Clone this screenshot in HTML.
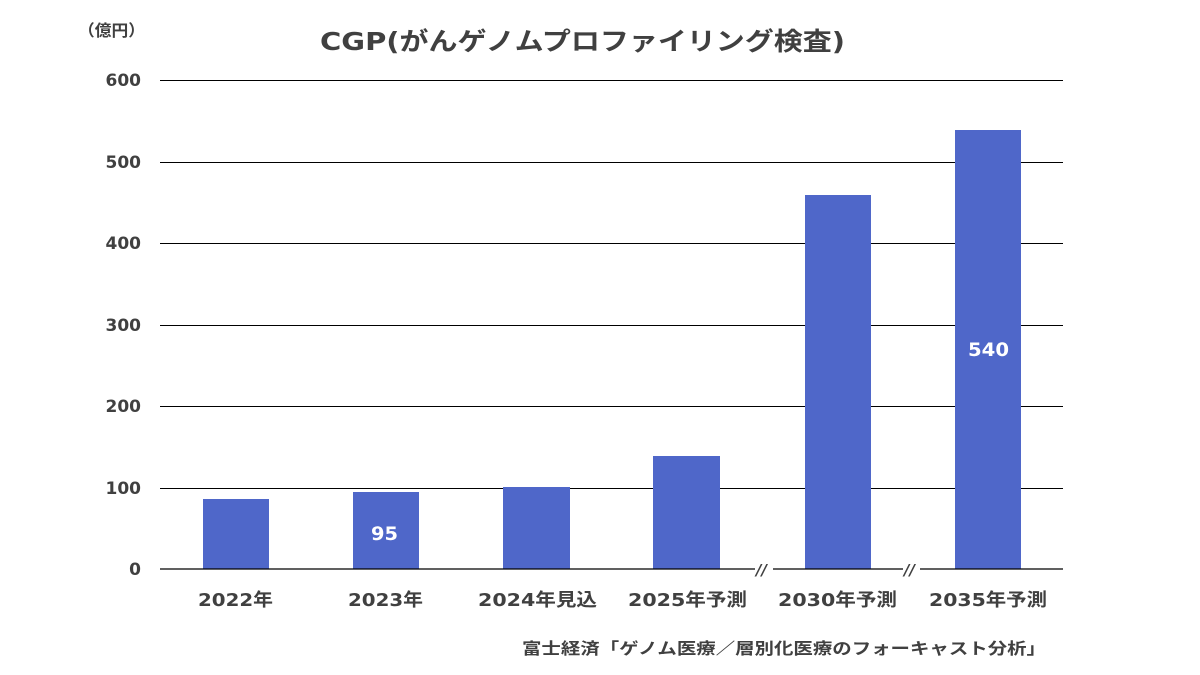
<!DOCTYPE html><html><head><meta charset="utf-8"><style>body{margin:0;background:#fff}svg{display:block}text{font-family:"DejaVu Sans","Noto Sans CJK JP",sans-serif;font-weight:bold;fill:#404040}</style></head><body>
<svg width="1200" height="675" viewBox="0 0 1200 675">
<text x="320" y="50" font-size="25" textLength="525" lengthAdjust="spacingAndGlyphs">CGP(がんゲノムプロファイリング検査)</text>
<text x="78" y="36" font-size="16" textLength="67" lengthAdjust="spacingAndGlyphs">（億円）</text>
<g stroke="#000" stroke-width="1">
<line x1="160" y1="80.5" x2="1063" y2="80.5"/><line x1="160" y1="162.5" x2="1063" y2="162.5"/><line x1="160" y1="243.5" x2="1063" y2="243.5"/><line x1="160" y1="325.5" x2="1063" y2="325.5"/><line x1="160" y1="406.5" x2="1063" y2="406.5"/><line x1="160" y1="488.5" x2="1063" y2="488.5"/>
</g>
<g font-size="17" text-anchor="end"><text x="141" y="86">600</text><text x="141" y="168">500</text><text x="141" y="249">400</text><text x="141" y="331">300</text><text x="141" y="412">200</text><text x="141" y="494">100</text><text x="141" y="575">0</text></g>
<g fill="#4f67c9"><rect x="203" y="499" width="66" height="70"/><rect x="353" y="492" width="66" height="77"/><rect x="503" y="487" width="67" height="82"/><rect x="653" y="456" width="67" height="113"/><rect x="805" y="195" width="66" height="374"/><rect x="955" y="130" width="66" height="439"/></g>
<g stroke="#000" stroke-width="1.3"><line x1="160" y1="569" x2="755" y2="569"/><line x1="773" y1="569" x2="903" y2="569"/><line x1="920" y1="569" x2="1063" y2="569"/></g>
<g font-size="15" font-style="italic"><text x="756" y="575">//</text><text x="904" y="575">//</text></g>
<text x="371" y="540" font-size="19" textLength="27" lengthAdjust="spacingAndGlyphs" style="fill:#fff">95</text>
<text x="968" y="356" font-size="19" textLength="41" lengthAdjust="spacingAndGlyphs" style="fill:#fff">540</text>
<g font-size="18"><text x="198" y="606" textLength="75" lengthAdjust="spacingAndGlyphs">2022年</text><text x="348" y="606" textLength="75" lengthAdjust="spacingAndGlyphs">2023年</text><text x="478" y="606" textLength="119" lengthAdjust="spacingAndGlyphs">2024年見込</text><text x="628" y="606" textLength="119" lengthAdjust="spacingAndGlyphs">2025年予測</text><text x="778" y="606" textLength="119" lengthAdjust="spacingAndGlyphs">2030年予測</text><text x="929" y="606" textLength="118" lengthAdjust="spacingAndGlyphs">2035年予測</text></g>
<text x="522" y="654" font-size="16" textLength="524" lengthAdjust="spacingAndGlyphs">富士経済「ゲノム医療／層別化医療のフォーキャスト分析」</text>
</svg></body></html>
